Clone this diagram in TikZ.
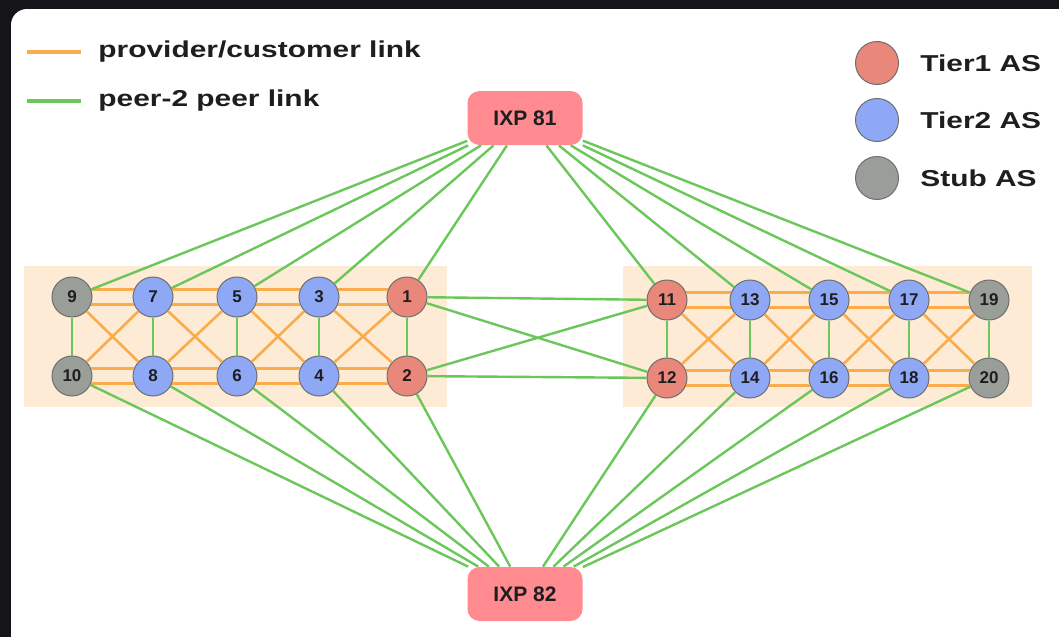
\documentclass[tikz,border=0pt]{standalone}
\usepackage{fontspec}
\setmainfont{Liberation Sans}
\usepackage{graphicx}
\definecolor{framebg}{HTML}{141419}
\definecolor{peach}{HTML}{FDEBD6}
\definecolor{tierone}{HTML}{E8877A}
\definecolor{tiertwo}{HTML}{8FA8F6}
\definecolor{stubgray}{HTML}{9A9E99}
\definecolor{rimgray}{HTML}{6E6E6E}
\definecolor{ixppink}{HTML}{FF8A90}
\definecolor{pcorange}{HTML}{FAAC4C}
\definecolor{ppgreen}{HTML}{6BC75A}
\definecolor{inktext}{HTML}{1E1E1E}
\newcommand{\wide}[1]{\scalebox{1.3}[1]{#1}}
\begin{document}
\begin{tikzpicture}[x=0.5pt, y=-0.5pt,
		as/.style={circle, draw=rimgray, line width=0.5pt, minimum size=20pt, inner sep=0pt,
			text=inktext, font=\fontsize{8.5}{8.5}\selectfont\bfseries},
		tone/.style={as, fill=tierone},
		ttwo/.style={as, fill=tiertwo},
		stub/.style={as, fill=stubgray},
		ixp/.style={rectangle, rounded corners=6pt, fill=ixppink, minimum width=57.5pt,
			minimum height=27pt, text=inktext, font=\fontsize{10.5}{10.5}\selectfont\bfseries},
		pc/.style={draw=pcorange, line width=1.3pt},
		pp/.style={draw=ppgreen, line width=1.2pt},
		legtext/.style={anchor=west, inner sep=0pt, text=inktext,
			font=\fontsize{11.5}{12}\selectfont\bfseries}]
	\useasboundingbox (0,0) rectangle (1059,637);
	\fill[framebg] (0,0) rectangle (1059,637);
	\fill[white] (1059,637) -- (11,637) [rounded corners=8pt] -- (11,9) [sharp corners] -- (1059,9) -- cycle;
	\fill[peach] (24,266) rectangle (447,407);
	\fill[peach] (623,266) rectangle (1032,407);

	\coordinate (pcL) at (27,52);
	\coordinate (pcR) at (81,52);
	\coordinate (ppL) at (27,101);
	\coordinate (ppR) at (81,101);
	\draw[pc, line width=2pt] (pcL) -- (pcR);
	\draw[pp, line width=2pt] (ppL) -- (ppR);
	\node[legtext] (lpc) at (98,52) {\wide{provider/customer link}};
	\node[legtext] (lpp) at (98,101) {\wide{peer-2 peer link}};
	\node[tone, minimum size=21.5pt] (lt1) at (877,63) {};
	\node[ttwo, minimum size=21.5pt] (lt2) at (877,120) {};
	\node[stub, minimum size=21.5pt] (lst) at (877,178) {};
	\node[legtext] (llt1) at (920,63) {\wide{Tier1 AS}};
	\node[legtext] (llt2) at (920,120) {\wide{Tier2 AS}};
	\node[legtext] (llst) at (920,178) {\wide{Stub AS}};

	\node[ixp] (ixp81) at (525,118) {IXP 81};
	\node[ixp] (ixp82) at (525,594) {IXP 82};

	\node[stub] (n9)  at (72,297)  {9};
	\node[ttwo] (n7)  at (153,297) {7};
	\node[ttwo] (n5)  at (237,297) {5};
	\node[ttwo] (n3)  at (319,297) {3};
	\node[tone] (n1)  at (407,297) {1};
	\node[stub] (n10) at (72,376)  {10};
	\node[ttwo] (n8)  at (153,376) {8};
	\node[ttwo] (n6)  at (237,376) {6};
	\node[ttwo] (n4)  at (319,376) {4};
	\node[tone] (n2)  at (407,376) {2};

	\node[tone] (n11) at (667,300) {11};
	\node[ttwo] (n13) at (750,300) {13};
	\node[ttwo] (n15) at (829,300) {15};
	\node[ttwo] (n17) at (909,300) {17};
	\node[stub] (n19) at (989,300) {19};
	\node[tone] (n12) at (667,378) {12};
	\node[ttwo] (n14) at (750,378) {14};
	\node[ttwo] (n16) at (829,378) {16};
	\node[ttwo] (n18) at (909,378) {18};
	\node[stub] (n20) at (989,378) {20};

	\draw[pc] (n9.22) -- (n7.158) (n9.-22) -- (n7.-158)
		(n7.22) -- (n5.158) (n7.-22) -- (n5.-158)
		(n5.22) -- (n3.158) (n5.-22) -- (n3.-158)
		(n3.22) -- (n1.158) (n3.-22) -- (n1.-158)
		(n10.22) -- (n8.158) (n10.-22) -- (n8.-158)
		(n8.22) -- (n6.158) (n8.-22) -- (n6.-158)
		(n6.22) -- (n4.158) (n6.-22) -- (n4.-158)
		(n4.22) -- (n2.158) (n4.-22) -- (n2.-158);
	\draw[pc] (n9) -- (n8) (n10) -- (n7) (n7) -- (n6) (n8) -- (n5)
		(n5) -- (n4) (n6) -- (n3) (n3) -- (n2) (n4) -- (n1);
	\draw[pc] (n11.22) -- (n13.158) (n11.-22) -- (n13.-158)
		(n13.22) -- (n15.158) (n13.-22) -- (n15.-158)
		(n15.22) -- (n17.158) (n15.-22) -- (n17.-158)
		(n17.22) -- (n19.158) (n17.-22) -- (n19.-158)
		(n12.22) -- (n14.158) (n12.-22) -- (n14.-158)
		(n14.22) -- (n16.158) (n14.-22) -- (n16.-158)
		(n16.22) -- (n18.158) (n16.-22) -- (n18.-158)
		(n18.22) -- (n20.158) (n18.-22) -- (n20.-158);
	\draw[pc] (n11) -- (n14) (n12) -- (n13) (n13) -- (n16) (n14) -- (n15)
		(n15) -- (n18) (n16) -- (n17) (n17) -- (n20) (n18) -- (n19);

	\draw[pp] (n9) -- (n10) (n7) -- (n8) (n5) -- (n6) (n3) -- (n4) (n1) -- (n2);
	\draw[pp] (n11) -- (n12) (n13) -- (n14) (n15) -- (n16) (n17) -- (n18) (n19) -- (n20);
	\draw[pp] (n1) -- (n11) (n1) -- (n12) (n2) -- (n11) (n2) -- (n12);
	\draw[pp] (ixp81) -- (n9) (ixp81) -- (n7) (ixp81) -- (n5) (ixp81) -- (n3) (ixp81) -- (n1)
		(ixp81) -- (n11) (ixp81) -- (n13) (ixp81) -- (n15) (ixp81) -- (n17) (ixp81) -- (n19);
	\draw[pp] (ixp82) -- (n10) (ixp82) -- (n8) (ixp82) -- (n6) (ixp82) -- (n4) (ixp82) -- (n2)
		(ixp82) -- (n12) (ixp82) -- (n14) (ixp82) -- (n16) (ixp82) -- (n18) (ixp82) -- (n20);
\end{tikzpicture}
\end{document}
